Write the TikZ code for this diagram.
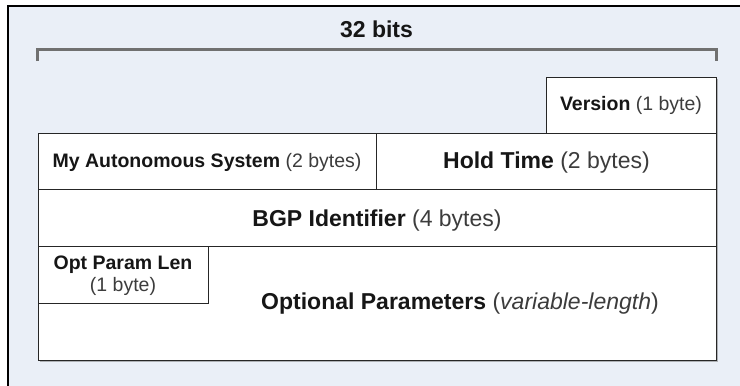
\documentclass[tikz,border=0pt]{standalone}
\usepackage{fontspec}
\setmainfont{Liberation Sans}
\usetikzlibrary{shadows}
\definecolor{bg}{RGB}{234,239,247}
\definecolor{brk}{RGB}{112,112,112}
\definecolor{txt}{RGB}{22,22,22}
\definecolor{sub}{RGB}{60,60,60}
\newcommand{\pbold}[1]{\textbf{\color{txt}#1}}
\newcommand{\psub}[1]{{\color{sub}#1}}
\begin{document}
\begin{tikzpicture}[x=1pt,y=-1pt,
  field/.style={draw=black!85,line width=1.3pt,fill=white,inner sep=0pt,
    anchor=north west,
    drop shadow={shadow xshift=1.2pt,shadow yshift=-1.2pt,opacity=0.45,fill=black!60}},
  big/.style={font=\fontsize{23}{26}\selectfont,anchor=base,inner sep=0pt},
  small/.style={font=\fontsize{19.5}{23}\selectfont,anchor=base,inner sep=0pt},
  bracket/.style={draw=brk,line width=3pt}]
\useasboundingbox (0,0) rectangle (740,386);
\fill[white] (0,0) rectangle (740,386);
\fill[bg] (8,6) rectangle (740,386);
\draw[black,line width=1.5pt] (8,386) -- (8,6) -- (740,6);

% bracket
\coordinate (bl) at (37,61);
\coordinate (br) at (716,61);
\draw[bracket] (bl) -- ++(0,-12) -| (br);
\node[big] (bits) at (376.5,37) {\pbold{32 bits}};

% fields
\node[field,minimum width=170pt,minimum height=56pt] (ver) at (546,77) {};
\node[field,minimum width=338pt,minimum height=56pt] (as) at (38,133) {};
\node[field,minimum width=340pt,minimum height=56pt] (hold) at (376,133) {};
\node[field,minimum width=678pt,minimum height=57pt] (bgp) at (38,189) {};
\node[field,minimum width=678pt,minimum height=114pt] (opt) at (38,246) {};
\node[draw=black!85,line width=1.3pt,fill=white,inner sep=0pt,anchor=north west,
  minimum width=170pt,minimum height=57pt] (opl) at (38,246) {};

% labels
\node[small] (verT) at (631,110) {\pbold{Version} \psub{(1 byte)}};
\node[small] (asT) at (207,167) {\pbold{My Autonomous System} \psub{(2 bytes)}};
\node[big] (holdT) at (546.5,168) {\pbold{Hold Time} \psub{(2 bytes)}};
\node[big] (bgpT) at (377,226) {\pbold{BGP Identifier} \psub{(4 bytes)}};
\node[small] (oplA) at (123,269) {\pbold{Opt Param Len}};
\node[small] (oplB) at (123,291) {\psub{(1 byte)}};
\node[big] (optT) at (460,309) {\pbold{Optional Parameters} \psub{(\textit{variable-length})}};
\end{tikzpicture}
\end{document}
